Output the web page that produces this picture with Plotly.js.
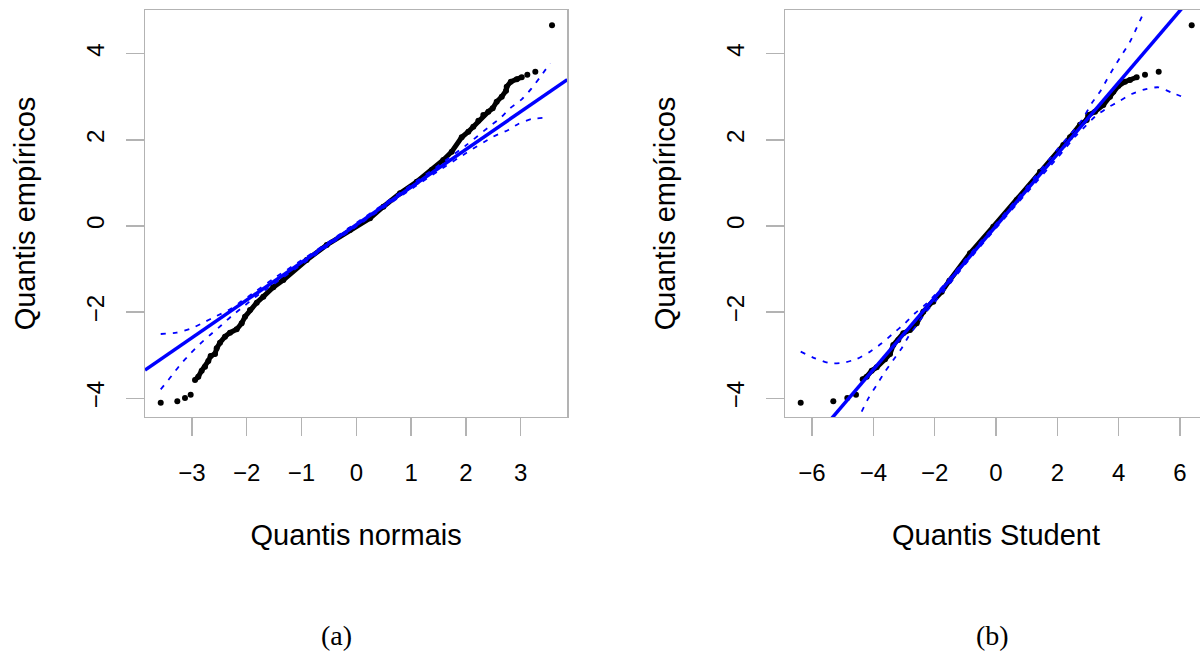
<!DOCTYPE html>
<html><head><meta charset="utf-8">
<script src="https://cdn.plot.ly/plotly-3.0.1.min.js"></script>
<style>html,body{margin:0;padding:0;overflow:hidden;background:#fff}#chart{width:1215px;height:653px}</style>
</head><body><div id="chart"></div>
<script>
// ---------- data ----------
// (a) normal QQ plot: sample points (sorted)
const normX = [-3.571,-3.268,-3.128,-3.024,
  -2.945,-2.885,-2.823,-2.762,-2.702,-2.659,-2.58,-2.549,-2.489,-2.397,-2.306,-2.184,-2.093,-2.032,-1.941,-1.819,-1.698,-1.515,-1.333,-0.906,-0.54,-0.115,0.25,0.493,0.798,1.103,1.377,1.588,1.742,1.924,2.045,2.136,2.228,2.319,2.41,2.49,2.563,2.655,2.733,2.746,2.82,2.93,3.02,
  3.122,3.268,3.573];
const normY = [-4.104,-4.072,-3.995,-3.918,
  -3.577,-3.50,-3.36,-3.268,-3.136,-3.02,-2.973,-2.841,-2.71,-2.571,-2.478,-2.40,-2.26,-2.107,-1.951,-1.782,-1.642,-1.424,-1.254,-0.79,-0.441,-0.093,0.179,0.448,0.76,1.029,1.30,1.533,1.726,2.06,2.19,2.307,2.446,2.578,2.655,2.734,2.887,3.004,3.143,3.236,3.35,3.41,3.454,
  3.515,3.584,4.662];
// (b) Student QQ plot: sample points (sorted)
const studX = [-6.368,-5.305,-4.848,-4.565,
  -4.347,-4.217,-4.053,-3.89,-3.619,-3.456,-3.349,-3.186,-3.023,-2.804,-2.586,-2.37,-2.044,-1.77,-1.52,-0.848,-0.088,0.675,1.435,2.194,2.413,2.739,2.957,3.01,3.228,3.499,3.717,3.826,3.988,4.206,4.369,4.587,
  4.858,5.305,6.381];
const studY = [-4.104,-4.072,-3.995,-3.918,
  -3.562,-3.50,-3.36,-3.283,-3.097,-2.973,-2.764,-2.648,-2.493,-2.416,-2.26,-1.99,-1.758,-1.526,-1.27,-0.634,-0.016,0.604,1.261,1.882,2.06,2.35,2.462,2.578,2.655,2.81,3.0,3.12,3.25,3.35,3.39,3.454,
  3.515,3.584,4.662];
// number of isolated points at each tail (not part of the dense band)
const normTailLo = 4, normTailHi = 3, studTailLo = 4, studTailHi = 3;

// reference lines
const normRef = {intercept: 0.029, slope: 0.875};
const studRef = {intercept: 0.0, slope: 0.834};

// confidence envelopes
const normUpX = [-3.571,-3.28,-3.005,-2.793,-2.55,-2.306,-2.093,-1.85,-1.5,-1.0,-0.5,0,0.5,1.0,1.5,2.0,2.41,2.624,2.806,3.02,3.2,3.354,3.537];
const normUpY = [-2.509,-2.478,-2.377,-2.246,-2.09,-1.935,-1.745,-1.53,-1.215,-0.796,-0.366,0.07,0.51,0.954,1.405,1.87,2.29,2.50,2.734,2.943,3.198,3.454,3.779];
const normLoX = [-3.571,-3.37,-3.219,-3.036,-2.854,-2.67,-2.458,-2.275,-2.063,-1.85,-1.5,-1.0,-0.5,0,0.5,1.0,1.5,2.0,2.5,2.775,2.958,3.2,3.476];
const normLoY = [-3.794,-3.48,-3.229,-2.973,-2.741,-2.532,-2.30,-2.09,-1.874,-1.656,-1.345,-0.896,-0.45,-0.012,0.425,0.854,1.28,1.69,2.075,2.23,2.37,2.485,2.516];
const studUpX = [-6.368,-5.9,-5.41,-4.978,-4.543,-4.108,-3.727,-3.349,-2.967,-2.641,-2.315,-1.989,-1.663,-1.0,0,1.0,2.0,2.684,2.902,3.12,3.391,3.608,3.826,4.098,4.369,4.804];
const studUpY = [-2.919,-3.074,-3.19,-3.175,-3.09,-2.919,-2.725,-2.493,-2.26,-2.028,-1.835,-1.603,-1.34,-0.78,0.05,0.90,1.78,2.346,2.578,2.85,3.12,3.39,3.66,3.97,4.28,4.94];
const studLoX = [-4.38,-4.163,-3.89,-3.619,-3.349,-3.075,-2.859,-2.586,-2.315,-1.989,-1.718,-1.0,0,1.0,2.0,2.576,2.902,3.228,3.608,3.988,4.424,4.858,5.293,5.781,6.217];
const studLoY = [-4.313,-4.003,-3.693,-3.384,-3.113,-2.841,-2.571,-2.30,-2.028,-1.758,-1.526,-0.89,-0.05,0.77,1.58,2.075,2.307,2.539,2.734,2.887,3.066,3.175,3.222,3.082,2.966];

// axis ticks
const xTicksA = [-3,-2,-1,0,1,2,3];
const xTicksB = [-6,-4,-2,0,2,4,6];
const yTicks = [-4,-2,0,2,4];
const xTitleA = 'Quantis normais', xTitleB = 'Quantis Student', yTitle = 'Quantis empíricos';
const captions = ['(a)', '(b)'];

// ---------- layout geometry ----------
const W = 1215, H = 653, mL = 145, mR = 8, mT = 10, mB = 236;
const plotW = W - mL - mR, plotH = H - mT - mB;
const xRangeA = [-3.858, 3.852], xRangeB = [-6.88, 6.88], yRange = [-4.437, 5.017];
const domA = [0, 422.3 / plotW], domB = [(785 - mL) / plotW, 1];

const BLUE = '#0000ff', GRAY = '#b3b3b3';
const FONT = 'Liberation Sans, Arial, Helvetica, sans-serif';

function panel(xs, ys, lo, hi, ref, upX, upY, loX, loY, xr, xa, ya) {
  const band = {x: xs.slice(lo, xs.length - hi), y: ys.slice(lo, ys.length - hi)};
  return [
    {type: 'scatter', mode: 'lines', x: band.x, y: band.y, xaxis: xa, yaxis: ya,
      line: {color: '#000', width: 5, shape: 'linear'}, hoverinfo: 'skip', showlegend: false},
    {type: 'scatter', mode: 'markers', x: xs, y: ys, xaxis: xa, yaxis: ya,
      marker: {color: '#000', size: 6}, showlegend: false},
    {type: 'scatter', mode: 'lines', x: xr, y: xr.map(v => ref.intercept + ref.slope * v), xaxis: xa, yaxis: ya,
      line: {color: BLUE, width: 3.5}, showlegend: false},
    {type: 'scatter', mode: 'lines', x: upX, y: upY, xaxis: xa, yaxis: ya,
      line: {color: BLUE, width: 1.8, dash: '5px,7px', shape: 'spline', smoothing: 0.6}, showlegend: false},
    {type: 'scatter', mode: 'lines', x: loX, y: loY, xaxis: xa, yaxis: ya,
      line: {color: BLUE, width: 1.8, dash: '5px,7px', shape: 'spline', smoothing: 0.6}, showlegend: false}
  ];
}

const data = [].concat(
  panel(normX, normY, normTailLo, normTailHi, normRef, normUpX, normUpY, normLoX, normLoY, xRangeA, 'x', 'y'),
  panel(studX, studY, studTailLo, studTailHi, studRef, studUpX, studUpY, studLoX, studLoY, xRangeB, 'x2', 'y2')
);

function xAxis(range, ticks, title, dom, anchor) {
  return {domain: dom, range: range, anchor: anchor, tickmode: 'array', tickvals: ticks,
    showgrid: false, zeroline: false, showline: true, mirror: true, linecolor: GRAY, linewidth: 1.3,
    ticks: 'outside', ticklen: 18, tickwidth: 1.3, tickcolor: GRAY, ticklabelstandoff: 16,
    tickfont: {family: FONT, size: 24, color: '#000'},
    title: {text: title, font: {family: FONT, size: 29, color: '#000'}, standoff: 39}};
}
function yAxis(ticks, anchor) {
  return {domain: [0, 1], range: yRange, anchor: anchor, tickmode: 'array', tickvals: ticks,
    showgrid: false, zeroline: false, showline: true, mirror: true, linecolor: GRAY, linewidth: 1.3,
    ticks: 'outside', ticklen: 18, tickwidth: 1.3, tickcolor: GRAY, tickangle: -90, ticklabelstandoff: 12,
    tickfont: {family: FONT, size: 24, color: '#000'},
    title: {text: yTitle, font: {family: FONT, size: 29, color: '#000'}, standoff: 38}};
}

const layout = {
  width: W, height: H, margin: {l: mL, r: mR, t: mT, b: mB},
  paper_bgcolor: '#fff', plot_bgcolor: '#fff', showlegend: false,
  xaxis: xAxis(xRangeA, xTicksA, xTitleA, domA, 'y'),
  yaxis: yAxis(yTicks, 'x'),
  xaxis2: xAxis(xRangeB, xTicksB, xTitleB, domB, 'y2'),
  yaxis2: yAxis(yTicks, 'x2'),
  annotations: [
    {text: captions[0], xref: 'paper', yref: 'paper', x: (336.7 - mL) / plotW, y: (mT + plotH - 635) / plotH,
      xanchor: 'center', yanchor: 'middle', showarrow: false, font: {family: 'Liberation Serif, Times New Roman, serif', size: 28, color: '#000'}},
    {text: captions[1], xref: 'paper', yref: 'paper', x: (992.5 - mL) / plotW, y: (mT + plotH - 635) / plotH,
      xanchor: 'center', yanchor: 'middle', showarrow: false, font: {family: 'Liberation Serif, Times New Roman, serif', size: 28, color: '#000'}}
  ]
};

Plotly.newPlot('chart', data, layout, {displayModeBar: false, staticPlot: true});
</script>
</body></html>
